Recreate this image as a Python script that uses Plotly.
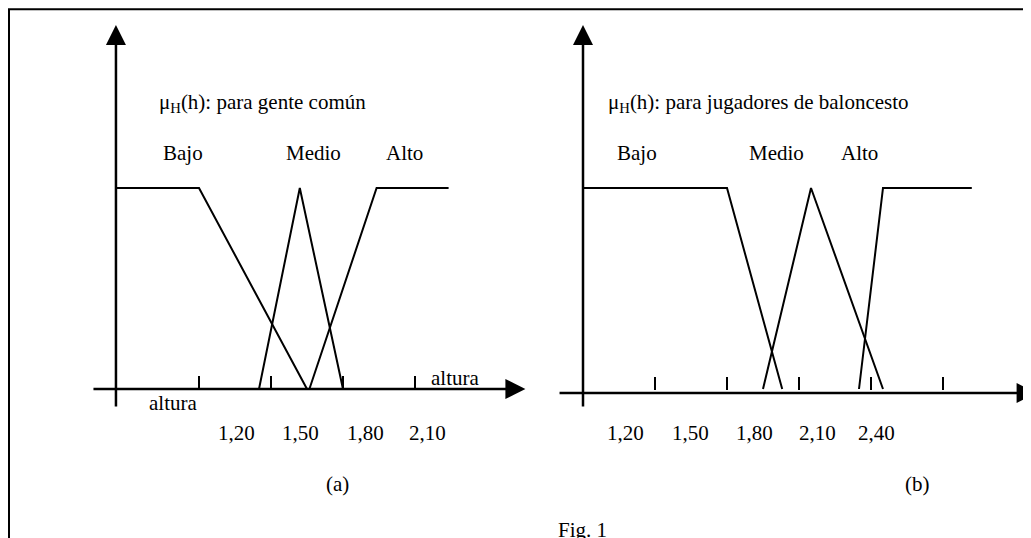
import plotly.graph_objects as go

# ---------------- data (heights in metres, membership 0..1) ----------------
# Panel (a): gente común
bajo_a_x = [0.85, 1.20, 1.65]
bajo_a_y = [1, 1, 0]
medio_a_x = [1.45, 1.62, 1.80]
medio_a_y = [0, 1, 0]
alto_a_x = [1.66, 1.94, 2.24]
alto_a_y = [0, 1, 1]
ticks_a = [1.20, 1.50, 1.80, 2.10]
ticklabels_a = ["1,20", "1,50", "1,80", "2,10"]

# Panel (b): jugadores de baloncesto
bajo_b_x = [0.90, 1.50, 1.73]
bajo_b_y = [1, 1, 0]
medio_b_x = [1.65, 1.85, 2.15]
medio_b_y = [0, 1, 0]
alto_b_x = [2.05, 2.15, 2.52]
alto_b_y = [0, 1, 1]
ticks_b = [1.20, 1.50, 1.80, 2.10, 2.40]
ticklabels_b = ["1,20", "1,50", "1,80", "2,10", "2,40"]

set_names = ["Bajo", "Medio", "Alto"]
title_a = "μ<sub>H</sub>(h): para gente común"
title_b = "μ<sub>H</sub>(h): para jugadores de baloncesto"

# ---------------- layout constants (positions/styles) ----------------
PAGE_OFFSET = 8          # default body margin of the html page
W, H = 1031 - PAGE_OFFSET, 538 - PAGE_OFFSET
PX_PER_M = 240.0
PX_PER_U = 201.0
Y0_PX = 389.0 - PAGE_OFFSET
# pixel (in figure) of the 1.20 tick in each panel
REF_A_PX, REF_B_PX = 199.0 - PAGE_OFFSET, 655.0 - PAGE_OFFSET

range_a = [1.2 - REF_A_PX / PX_PER_M, 1.2 + (W - REF_A_PX) / PX_PER_M]
range_b = [1.2 - REF_B_PX / PX_PER_M, 1.2 + (W - REF_B_PX) / PX_PER_M]
range_y = [(Y0_PX - H) / PX_PER_U, Y0_PX / PX_PER_U]

FONT = dict(family="Liberation Serif, Times New Roman, serif", size=21, color="black")
LW = 2

panels = {
    "a": dict(xref="x", yaxis_x=0.854, xaxis_y=0.0, xaxis_from=0.754, xaxis_to=2.56,
              tick_y=(0.0, 0.065),
              sets=[(bajo_a_x, bajo_a_y), (medio_a_x, medio_a_y), (alto_a_x, alto_a_y)],
              ticks=ticks_a, ticklabels=ticklabels_a,
              ticklabel_x=[1.358, 1.621, 1.892, 2.154],
              name_x=[1.133, 1.675, 2.058], title=title_a, title_x=1.025,
              tag="(a)", tag_x=1.779),
    "b": dict(xref="x2", yaxis_x=0.90, xaxis_y=-0.02, xaxis_from=0.796, xaxis_to=2.79,
              tick_y=(-0.005, 0.06),
              sets=[(bajo_b_x, bajo_b_y), (medio_b_x, medio_b_y), (alto_b_x, alto_b_y)],
              ticks=ticks_b, ticklabels=ticklabels_b,
              ticklabel_x=[1.079, 1.346, 1.6125, 1.875, 2.121],
              name_x=[1.125, 1.708, 2.054], title=title_b, title_x=0.995,
              tag="(b)", tag_x=2.292),
}

fig = go.Figure()
annotations = []

for key, p in panels.items():
    xa = p["xref"]
    # membership functions
    for (xs, ys) in p["sets"]:
        fig.add_trace(go.Scatter(x=xs, y=ys, mode="lines", xaxis=xa, yaxis="y",
                                 line=dict(color="black", width=LW),
                                 hoverinfo="skip", showlegend=False))
    # tick marks
    tx, ty = [], []
    for t in p["ticks"]:
        tx += [t, t, None]
        ty += [p["tick_y"][0], p["tick_y"][1], None]
    fig.add_trace(go.Scatter(x=tx, y=ty, mode="lines", xaxis=xa, yaxis="y",
                             line=dict(color="black", width=LW),
                             hoverinfo="skip", showlegend=False))
    # y axis with arrow
    annotations.append(dict(xref=xa, yref="y", axref=xa, ayref="y",
                            x=p["yaxis_x"], y=1.811, ax=p["yaxis_x"], ay=-0.095,
                            text="", showarrow=True, arrowhead=2, arrowsize=1.6,
                            arrowwidth=2.5, arrowcolor="black", standoff=0))
    # x axis with arrow
    annotations.append(dict(xref=xa, yref="y", axref=xa, ayref="y",
                            x=p["xaxis_to"], y=p["xaxis_y"], ax=p["xaxis_from"], ay=p["xaxis_y"],
                            text="", showarrow=True, arrowhead=2, arrowsize=1.6,
                            arrowwidth=2.5, arrowcolor="black", standoff=0))
    # tick labels
    for lx, lab in zip(p["ticklabel_x"], p["ticklabels"]):
        annotations.append(dict(xref=xa, yref="y", x=lx, y=-0.219, text=lab,
                                showarrow=False, font=FONT, xanchor="center", yanchor="middle"))
    # set names
    for nx, nm in zip(p["name_x"], set_names):
        annotations.append(dict(xref=xa, yref="y", x=nx, y=1.174, text=nm,
                                showarrow=False, font=FONT, xanchor="center", yanchor="middle"))
    # title
    annotations.append(dict(xref=xa, yref="y", x=p["title_x"], y=1.423, text=p["title"],
                            showarrow=False, font=FONT, xanchor="left", yanchor="middle"))
    # panel tag
    annotations.append(dict(xref=xa, yref="y", x=p["tag_x"], y=-0.473, text=p["tag"],
                            showarrow=False, font=FONT, xanchor="center", yanchor="middle"))

# axis word labels for panel (a)
annotations.append(dict(xref="x", yref="y", x=1.092, y=-0.07, text="altura",
                        showarrow=False, font=FONT, xanchor="center", yanchor="middle"))
annotations.append(dict(xref="x", yref="y", x=2.267, y=0.055, text="altura",
                        showarrow=False, font=FONT, xanchor="center", yanchor="middle"))
# figure caption
annotations.append(dict(xref="x2", yref="y", x=0.896, y=-0.70, text="Fig. 1",
                        showarrow=False, font=FONT, xanchor="center", yanchor="middle"))

fig.update_layout(
    width=W, height=H,
    margin=dict(l=0, r=0, t=0, b=0),
    paper_bgcolor="white", plot_bgcolor="white",
    showlegend=False,
    xaxis=dict(domain=[0, 1], range=range_a, visible=False, fixedrange=True),
    xaxis2=dict(domain=[0, 1], range=range_b, visible=False, fixedrange=True,
                overlaying="x", anchor="y"),
    yaxis=dict(domain=[0, 1], range=range_y, visible=False, fixedrange=True),
    annotations=annotations,
    shapes=[dict(type="rect", xref="paper", yref="paper",
                 x0=1 / W, x1=1.02, y0=-0.02, y1=1 - 1.3 / H,
                 line=dict(color="black", width=2), fillcolor="rgba(0,0,0,0)")],
)

fig.write_html("out.html")
